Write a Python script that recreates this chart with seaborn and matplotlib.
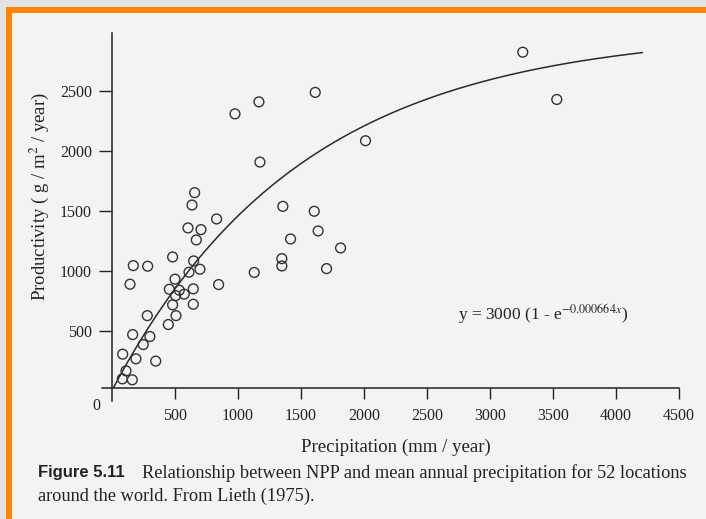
import numpy as np
import pandas as pd
import matplotlib
matplotlib.use("Agg")
import matplotlib.pyplot as plt
from matplotlib.patches import Rectangle
import seaborn as sns

# precipitation (mm/year) and NPP (g/m2/year)
precip = [169, 283, 481, 648, 611, 698, 143, 500, 455, 534, 645, 846, 505, 573,
          481, 645, 280, 508, 447, 164, 301, 248, 85, 190, 347, 111, 82, 161,
          1129, 656, 635, 830, 603, 706, 669, 1174, 1356, 1417, 1348, 1348,
          1613, 1166, 976, 2012, 1605, 1636, 1814, 1703, 3260, 3530]
npp = [1041, 1036, 1113, 1080, 986, 1011, 886, 928, 844, 836, 847, 883, 791, 803,
       714, 719, 624, 624, 550, 466, 450, 383, 303, 264, 245, 164, 97, 89,
       984, 1649, 1546, 1430, 1355, 1341, 1255, 1904, 1535, 1263, 1099, 1038,
       2485, 2406, 2306, 2082, 1494, 1330, 1188, 1016, 2820, 2426]

# fitted model y = a (1 - exp(-k x))
fit_a = 3000
fit_k = 0.000664
fit_xmax = 4210

x_ticks = [500, 1000, 1500, 2000, 2500, 3000, 3500, 4000, 4500]
y_ticks = [500, 1000, 1500, 2000, 2500]

paper = "#f3f3f1"
ink = "#222222"

sns.set_theme(style="white")
plt.rcParams["font.family"] = ["Liberation Serif", "DejaVu Serif"]
plt.rcParams["mathtext.fontset"] = "stix"

fig = plt.figure(figsize=(7.06, 5.19), dpi=100)
fig.patch.set_facecolor("#e2e2e2")
W, H = 706, 519
# orange frame + page, kept behind the axes
fig.patches.append(Rectangle((6 / W, 0), 1, 1 - 7 / H, transform=fig.transFigure,
                             facecolor="#ff8400", edgecolor="none", zorder=-10))
fig.patches.append(Rectangle((12 / W, 0), 1, 1 - 13 / H, transform=fig.transFigure,
                             facecolor=paper, edgecolor="none", zorder=-9))

ax = fig.add_axes([112 / W, 1 - 387.5 / H, (679 - 112) / W, (387.5 - 33) / H])
ax.set_facecolor("none")

df = pd.DataFrame({"precip": precip, "npp": npp})
sns.scatterplot(data=df, x="precip", y="npp", ax=ax, marker="o", s=50,
                facecolor="none", edgecolor="#333333", linewidth=1.0, zorder=3)

xs = np.linspace(0, fit_xmax, 300)
curve = pd.DataFrame({"x": xs, "y": fit_a * (1 - np.exp(-fit_k * xs))})
sns.lineplot(data=curve, x="x", y="y", ax=ax, color="#2a2a2a", linewidth=1.1)

ax.set_xlim(0, 4500)
ax.set_ylim(25, 2980)
ax.set_xticks(x_ticks)
ax.set_yticks(y_ticks)
for side in ["top", "right"]:
    ax.spines[side].set_visible(False)
ax.spines["left"].set_bounds(-90, 2980)
ax.spines["bottom"].set_bounds(-80, 4500)
for side in ["left", "bottom"]:
    ax.spines[side].set_color(ink)
    ax.spines[side].set_linewidth(1.1)
ax.tick_params(axis="x", direction="out", length=8, width=1.0, color=ink,
               labelsize=11.5, labelcolor=ink, pad=7, bottom=True)
ax.tick_params(axis="y", direction="out", length=9.5, width=1.0, color=ink,
               labelsize=11.5, labelcolor=ink, pad=5, left=True)
ax.set_xlabel("Precipitation (mm / year)", fontsize=13.5, color=ink, labelpad=10)
ax.set_ylabel("Productivity ( g / m$^{2}$ / year)", fontsize=13.5, color=ink)
ax.yaxis.set_label_coords(-0.107, 0.54)
ax.text(-0.02, -0.03, "0", transform=ax.transAxes, ha="right", va="top",
        fontsize=11.5, color=ink)

ax.text(2745, 590, r"y = 3000 (1 - e$^{-0.000664x}$)", fontsize=12.5, color=ink)

fig.text(38 / W, 1 - 473 / H, "Figure 5.11", family="Liberation Sans",
         fontweight="bold", fontsize=12, color=ink, va="center")
fig.text(142 / W, 1 - 473 / H,
         "Relationship between NPP and mean annual precipitation for 52 locations",
         fontsize=13.2, color=ink, va="center")
fig.text(38 / W, 1 - 496 / H, "around the world. From Lieth (1975).",
         fontsize=13.2, color=ink, va="center")

fig.savefig("out.png", dpi=100, facecolor=fig.get_facecolor())
